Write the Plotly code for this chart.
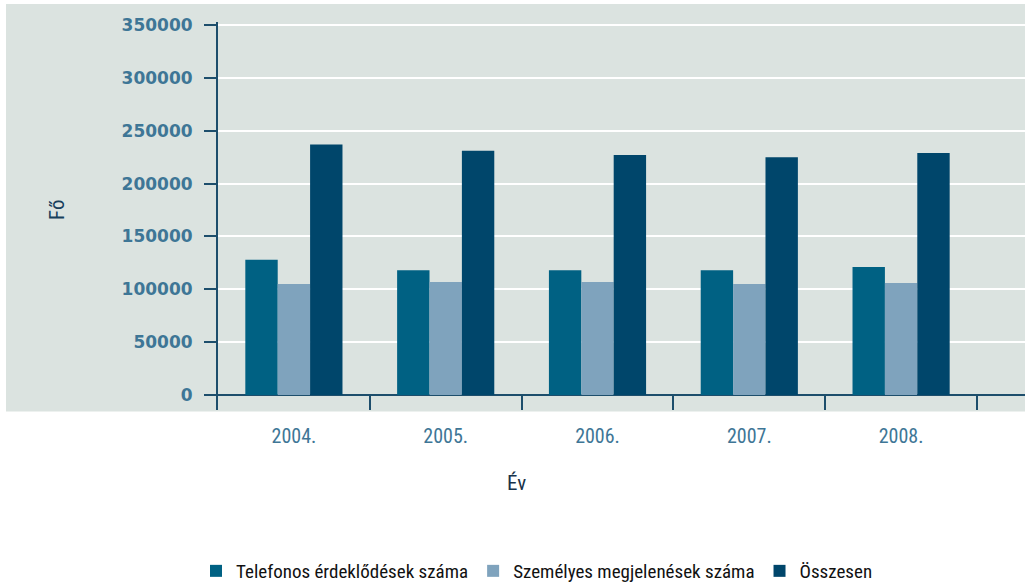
import plotly.graph_objects as go

# ---- data ----
years = ["2004.", "2005.", "2006.", "2007.", "2008."]
telefonos = [128000, 118000, 118000, 118000, 121000]
szemelyes = [105000, 107000, 107000, 105000, 106000]
osszesen = [237000, 231000, 227000, 225000, 229000]
series_names = ["Telefonos érdeklődések száma", "Személyes megjelenések száma", "Összesen"]
y_tick_values = [0, 50000, 100000, 150000, 200000, 250000, 300000, 350000]
x_title = "Év"
y_title = "Fő"

# ---- style ----
W, H = 1025, 583
PL, PR, PT, PB = 218, 1025, 22, 410          # plot area in pixels
colors = ["#006183", "#7fa3bd", "#00466b"]
bg_gray = "#dbe3e0"
axis_col = "#1d4e6c"
tick_col = "#3e7696"
cond = "Roboto Condensed, Liberation Sans Narrow, sans-serif"

pw, ph = PR - PL, PB - PT
def px_x(x):
    return (x - PL) / pw
def px_y(y):
    return (PB - y) / ph

units_per_px = 50000 / 52.86
y_min = -(PB - 395) * units_per_px
y_max = (395 - PT) * units_per_px

fig = go.Figure()
for name, vals, col in zip(series_names, [telefonos, szemelyes, osszesen], colors):
    fig.add_trace(go.Bar(x=years, y=vals, name=name, marker=dict(color=col, line=dict(width=0))))

fig.update_layout(
    width=W, height=H,
    margin=dict(l=PL, r=W - PR, t=PT, b=H - PB, autoexpand=False),
    paper_bgcolor="white",
    plot_bgcolor=bg_gray,
    barmode="group",
    bargap=0.36,
    bargroupgap=0,
    showlegend=True,
    legend=dict(orientation="h", x=px_x(537), xanchor="center", y=px_y(571), yanchor="middle",
                font=dict(family=cond, size=19, color="#111111"), bgcolor="rgba(0,0,0,0)",
                traceorder="normal"),
    shapes=[dict(type="rect", xref="paper", yref="paper", layer="below",
                 x0=px_x(6), x1=px_x(1026), y0=px_y(411.5), y1=px_y(4),
                 fillcolor=bg_gray, line=dict(width=0))],
    annotations=[
        dict(text=x_title, xref="paper", yref="paper", x=px_x(516), y=px_y(483),
             xanchor="center", yanchor="middle", showarrow=False,
             font=dict(family=cond, size=21, color="#17324a")),
        dict(text=y_title, xref="paper", yref="paper", x=px_x(57), y=px_y(210),
             xanchor="center", yanchor="middle", showarrow=False, textangle=-90,
             font=dict(family=cond, size=21, color="#17405c")),
    ],
)

fig.update_xaxes(
    type="category",
    range=[-0.5, -0.5 + pw / 151.8],
    showgrid=False, zeroline=False, showline=False,
    ticks="inside", tickson="boundaries", ticklen=15, tickwidth=2, tickcolor=axis_col,
    tickfont=dict(family=cond, size=20, color=tick_col),
    ticklabelstandoff=12,
)
fig.update_yaxes(
    range=[y_min, y_max],
    tickvals=y_tick_values, ticktext=[str(v) for v in y_tick_values],
    showgrid=True, gridcolor="white", gridwidth=2,
    zeroline=True, zerolinecolor=axis_col, zerolinewidth=2,
    showline=True, linecolor=axis_col, linewidth=2,
    ticks="outside", ticklen=12, tickwidth=2, tickcolor=axis_col,
    tickfont=dict(family="DejaVu Sans", size=17, color=tick_col, weight="bold"),
    ticklabelstandoff=8,
)

fig.write_html("out.html", config={"displayModeBar": False},
               post_script="document.body.style.margin='0';document.body.style.overflow='hidden';")
